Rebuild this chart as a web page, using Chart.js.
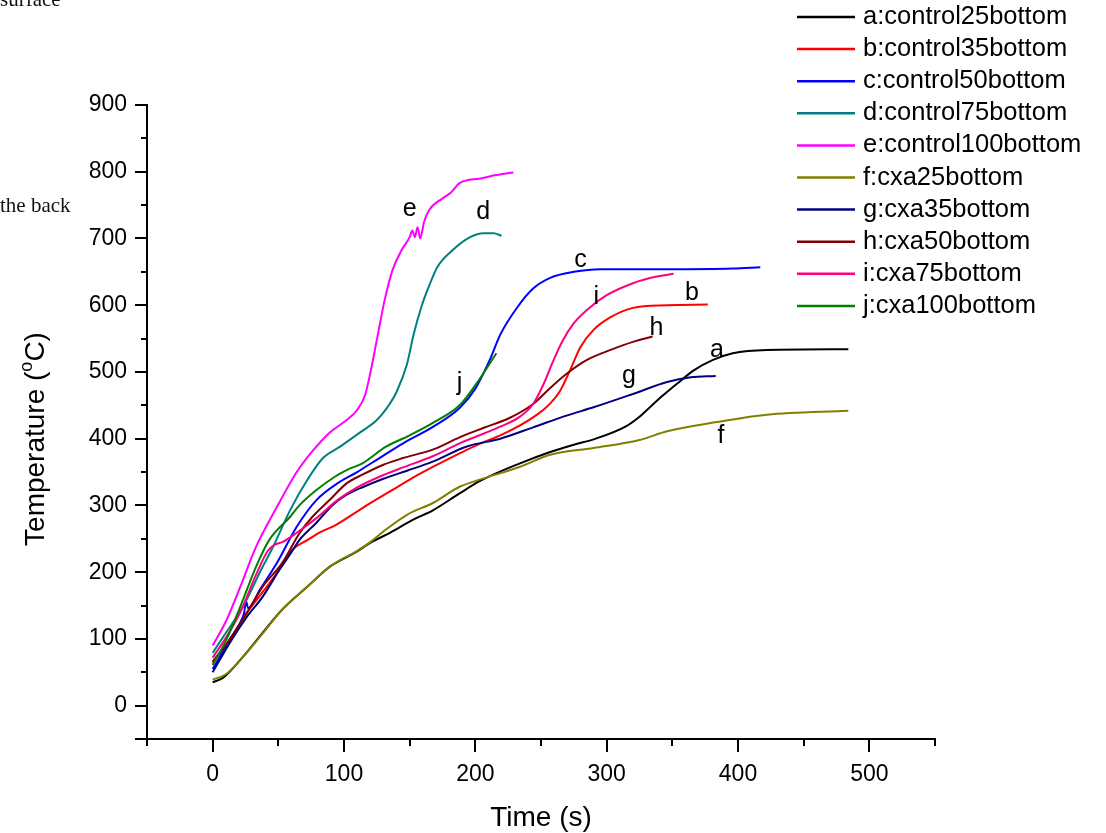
<!DOCTYPE html>
<html lang="en">
<head>
<meta charset="UTF-8">
<title>Bottom surface temperature</title>
<style>
  html, body { margin: 0; padding: 0; background: #fff; }
  #wrap { position: relative; width: 1106px; height: 833px; }
</style>
</head>
<body>
<div id="wrap"><canvas id="tempChart" width="1106" height="833"></canvas></div>
<script src="https://cdn.jsdelivr.net/npm/chart.js"></script>
<script>
// [time (s), temperature (°C)] for each run
const control25 = [[0,35],[8,42],[23,73],[38,109],[53,144],[72,178],[89,208],[110,231],[120,244],[135,259],[152,278],[168,293],[188,318],[204,337],[234,363],[257,380],[275,391],[290,399],[315,419],[325,433],[335,451],[343,465],[354,483],[366,502],[381,518],[396,528],[422,533],[484,534]];
const control35 = [[0,64],[13,99],[26,139],[38,170],[49,199],[61,234],[72,248],[82,260],[94,271],[114,296],[135,321],[152,341],[168,358],[188,378],[204,393],[219,405],[234,420],[244,432],[254,447],[264,470],[272,502],[280,537],[290,563],[303,582],[320,596],[346,600],[377,601]];
const control50 = [[0,55],[13,99],[23,133],[24,140],[25.5,156],[27,146],[36,174],[49,214],[64,268],[79,308],[95,333],[110,350],[127,371],[145,393],[168,418],[188,446],[200,475],[211,518],[219,556],[232,597],[244,625],[257,641],[275,650],[295,654],[346,654],[396,655],[417,657]];
const control75 = [[0,79],[8,103],[23,148],[37,204],[46,238],[59,293],[72,338],[84,371],[97,388],[112,409],[125,428],[133,447],[140,470],[148,512],[153,556],[159,598],[165,630],[171,657],[183,683],[196,702],[206,708],[214,708],[220,704]];
const control100 = [[0,90],[10.5,128],[21,178],[33,238],[49,298],[64,350],[75,379],[89,409],[102,428],[110,443],[116,465],[120,498],[125,548],[131,608],[137,653],[144,683],[150,702],[152,712],[154,702],[156,717],[158,700],[161,725],[165,743],[175,760],[181,768],[188,783],[204,790],[216,795],[229,799]];
const cxa25 = [[0,39],[10,47],[23,73],[38,108],[53,144],[72,178],[89,208],[110,232],[120,245],[130,261],[148,286],[168,304],[188,328],[204,339],[234,358],[257,376],[290,386],[325,398],[346,411],[384,425],[422,436],[484,442]];
const cxa35 = [[0,50],[13,94],[26,133],[38,163],[51,204],[60,230],[66,248],[79,274],[91,300],[102,316],[115,328],[130,340],[148,352],[168,366],[193,388],[219,400],[244,417],[270,435],[290,447],[320,467],[346,485],[364,492],[383,494]];
const cxa50 = [[0,66],[13,99],[26,139],[38,178],[53,214],[66,258],[76,283],[89,308],[102,333],[114,346],[130,361],[145,371],[168,384],[188,402],[206,416],[226,431],[244,452],[257,476],[270,498],[285,518],[303,533],[320,545],[335,553]];
const cxa75 = [[0,72],[10.5,103],[21,140],[33,196],[42,232],[47,241],[53,245],[64,259],[79,281],[95,308],[110,327],[127,343],[145,357],[168,374],[188,393],[219,418],[234,433],[244,452],[252,482],[259,515],[266,545],[275,573],[285,593],[300,615],[320,633],[338,643],[351,647]];
const cxa100 = [[0,61],[10.5,99],[21,148],[33,208],[43,248],[59,283],[66,300],[79,323],[93,343],[102,353],[114,363],[132,388],[150,405],[168,424],[188,450],[201,483],[216,528]];

const seriesNames = ['a:control25bottom', 'b:control35bottom', 'c:control50bottom', 'd:control75bottom', 'e:control100bottom',
  'f:cxa25bottom', 'g:cxa35bottom', 'h:cxa50bottom', 'i:cxa75bottom', 'j:cxa100bottom'];
const seriesData = [control25, control35, control50, control75, control100, cxa25, cxa35, cxa50, cxa75, cxa100];
const seriesColors = ['#000000', '#FF0000', '#0000FF', '#008080', '#FF00FF', '#808000', '#000080', '#800000', '#FF0080', '#008000'];
const xTickValues = [0, 100, 200, 300, 400, 500];
const yTickValues = [0, 100, 200, 300, 400, 500, 600, 700, 800, 900];

// letter tags next to the curves, in data coordinates
const curveTags = [
  ['a', 384, 533], ['b', 365, 618], ['c', 280, 668], ['d', 206, 740], ['e', 150, 744],
  ['f', 387, 404], ['g', 317, 494], ['h', 338, 566], ['i', 292, 612], ['j', 188, 483]
];

const SANS = "'Liberation Sans', Arial, sans-serif";
const SERIF = "'Liberation Serif', 'Times New Roman', serif";

const decorations = {
  id: 'decorations',
  afterDraw(chart) {
    const { ctx, chartArea: area } = chart;
    const x = chart.scales.x, y = chart.scales.y;
    ctx.save();

    // outward tick marks, long at labelled values
    ctx.strokeStyle = '#000';
    ctx.lineWidth = 2;
    for (let v = -50; v <= 900; v += 50) {
      const py = Math.round(y.getPixelForValue(v));
      const len = (v % 100 === 0 || v === -50) ? 12 : 6;
      ctx.beginPath();
      ctx.moveTo(area.left - len, py);
      ctx.lineTo(area.left, py);
      ctx.stroke();
    }
    for (let v = -50; v <= 550; v += 50) {
      const px = Math.round(x.getPixelForValue(v));
      const len = v % 100 === 0 ? 13 : 7;
      ctx.beginPath();
      ctx.moveTo(px, area.bottom);
      ctx.lineTo(px, area.bottom + len);
      ctx.stroke();
    }

    // curve letters
    ctx.fillStyle = '#000';
    ctx.font = '25px ' + SANS;
    ctx.textAlign = 'center';
    ctx.textBaseline = 'middle';
    curveTags.forEach(([t, tx, ty]) => {
      ctx.fillText(t, x.getPixelForValue(tx), y.getPixelForValue(ty));
    });

    // axis titles
    ctx.font = '28px ' + SANS;
    ctx.fillText('Time (s)', 541, 818);

    ctx.save();
    ctx.translate(36, 439);
    ctx.rotate(-Math.PI / 2);
    const partA = 'Temperature (', partC = 'C)';
    ctx.font = '28px ' + SANS;
    const wA = ctx.measureText(partA).width, wC = ctx.measureText(partC).width;
    ctx.font = '18px ' + SANS;
    const wO = ctx.measureText('o').width;
    let cx = -(wA + wO + wC) / 2;
    ctx.textAlign = 'left';
    ctx.font = '28px ' + SANS;
    ctx.fillText(partA, cx, 0);
    cx += wA;
    ctx.font = '18px ' + SANS;
    ctx.fillText('o', cx, -9);
    cx += wO;
    ctx.font = '28px ' + SANS;
    ctx.fillText(partC, cx, 0);
    ctx.restore();

    // legend
    ctx.textAlign = 'left';
    ctx.textBaseline = 'middle';
    ctx.font = '25.5px ' + SANS;
    seriesNames.forEach((name, i) => {
      const ry = 17 + i * 32.1;
      ctx.strokeStyle = seriesColors[i];
      ctx.lineWidth = 2.5;
      ctx.beginPath();
      ctx.moveTo(797, ry);
      ctx.lineTo(855, ry);
      ctx.stroke();
      ctx.fillStyle = '#000';
      ctx.fillText(name, 863, ry);
    });

    // caption fragments at the left edge
    ctx.font = '21px ' + SERIF;
    ctx.textBaseline = 'alphabetic';
    ctx.fillStyle = '#111';
    ctx.fillText('surface', 0, 6);
    ctx.fillText('the back', 0, 212);

    ctx.restore();
  }
};

new Chart(document.getElementById('tempChart'), {
  type: 'scatter',
  data: {
    datasets: seriesData.map((pts, i) => ({
      label: seriesNames[i],
      data: pts.map(([t, temp]) => ({ x: t, y: temp })),
      showLine: true,
      borderColor: seriesColors[i],
      backgroundColor: seriesColors[i],
      borderWidth: 2,
      pointRadius: 0,
      cubicInterpolationMode: 'monotone',
      order: seriesData.length - i
    }))
  },
  options: {
    responsive: false,
    animation: false,
    devicePixelRatio: 1,
    layout: { padding: { left: 0, top: 105, right: 171, bottom: 0 } },
    plugins: { legend: { display: false }, tooltip: { enabled: false } },
    scales: {
      x: {
        type: 'linear',
        min: -50,
        max: 550,
        afterBuildTicks: (scale) => { scale.ticks = xTickValues.map(v => ({ value: v })); },
        afterFit: (scale) => { scale.height = 94; },
        grid: { display: true, drawOnChartArea: false, drawTicks: false },
        border: { display: true, color: '#000', width: 2 },
        ticks: { color: '#000', font: { family: SANS, size: 23 }, padding: 22, maxRotation: 0 }
      },
      y: {
        type: 'linear',
        min: -50,
        max: 900,
        afterBuildTicks: (scale) => { scale.ticks = yTickValues.map(v => ({ value: v })); },
        afterFit: (scale) => { scale.width = 147; },
        grid: { display: true, drawOnChartArea: false, drawTicks: false },
        border: { display: true, color: '#000', width: 2 },
        ticks: { color: '#000', font: { family: SANS, size: 23 }, padding: 20 }
      }
    }
  },
  plugins: [decorations]
});
</script>
</body>
</html>
